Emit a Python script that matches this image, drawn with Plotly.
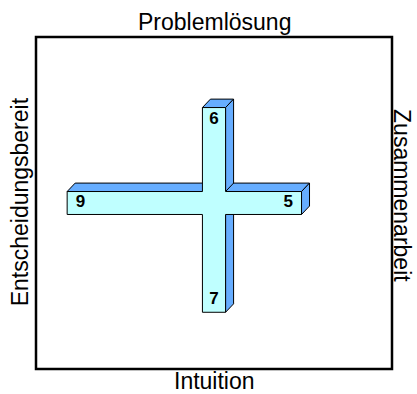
import plotly.graph_objects as go

# ================== data ==================
side_labels = ["Entscheidungsbereit", "Zusammenarbeit", "Problemlösung", "Intuition"]  # links, rechts, oben, unten
arm_values = [9, 5, 6, 7]                                                            # links, rechts, oben, unten
arm_text = [str(v) for v in arm_values]

# ================== style ==================
FACE = "#bfffff"
SIDE = "#66adff"
HW_X, HW_Y = 0.78, 0.83   # halbe Balkenbreite
PAD = 0.9                 # Balken geht etwas ueber den Wert hinaus
DX, DY = 0.54, 0.61       # 3D-Tiefe
RANGE = 12

left = -(arm_values[0] + PAD)
right = arm_values[1] + PAD
top = arm_values[2] + PAD
bottom = -(arm_values[3] + PAD)

fig = go.Figure()

def poly(xs, ys, color):
    fig.add_trace(go.Scatter(x=xs + [xs[0]], y=ys + [ys[0]], mode="lines", fill="toself",
                             fillcolor=color, line=dict(color="black", width=1),
                             hoverinfo="skip", showlegend=False))

# horizontaler Balken: Oberseite + rechtes Ende
poly([left, right, right + DX, left + DX], [HW_Y, HW_Y, HW_Y + DY, HW_Y + DY], SIDE)
poly([right, right, right + DX, right + DX], [-HW_Y, HW_Y, HW_Y + DY, -HW_Y + DY], SIDE)
# senkrechter Balken: Oberseite + rechte Seite (oben und unten)
poly([-HW_X, HW_X, HW_X + DX, -HW_X + DX], [top, top, top + DY, top + DY], SIDE)
poly([HW_X, HW_X, HW_X + DX, HW_X + DX], [HW_Y, top, top + DY, HW_Y + DY], SIDE)
poly([HW_X, HW_X, HW_X + DX, HW_X + DX], [bottom, -HW_Y, -HW_Y, bottom + DY], SIDE)
# Vorderseite des Kreuzes
poly([left, left, -HW_X, -HW_X, HW_X, HW_X, right, right, HW_X, HW_X, -HW_X, -HW_X],
     [-HW_Y, HW_Y, HW_Y, top, top, HW_Y, HW_Y, -HW_Y, -HW_Y, bottom, bottom, -HW_Y], FACE)

# Zahlen
fig.add_trace(go.Scatter(
    x=[-arm_values[0], arm_values[1], 0, 0],
    y=[0, 0, arm_values[2], -arm_values[3]],
    mode="text", text=["<b>%s</b>" % t for t in arm_text],
    textfont=dict(family="Liberation Sans, Arial, sans-serif", size=17, color="black"),
    hoverinfo="skip", showlegend=False))

font = dict(family="Liberation Sans, Arial, sans-serif", size=23, color="black")
fig.add_annotation(text=side_labels[2], x=0.5, y=1.044, xref="paper", yref="paper",
                   showarrow=False, font=font, yanchor="middle")
fig.add_annotation(text=side_labels[3], x=0.5, y=-0.036, xref="paper", yref="paper",
                   showarrow=False, font=font, yanchor="middle")
fig.add_annotation(text=side_labels[0], x=-0.044, y=0.503, xref="paper", yref="paper",
                   showarrow=False, font=font, textangle=-90, xanchor="center")
fig.add_annotation(text=side_labels[1], x=1.028, y=0.521, xref="paper", yref="paper",
                   showarrow=False, font=font, textangle=90, xanchor="center")

fig.add_shape(type="rect", xref="paper", yref="paper", x0=0, x1=1, y0=0, y1=1,
              line=dict(color="black", width=2.5))

fig.update_xaxes(range=[-RANGE, RANGE], visible=False)
fig.update_yaxes(range=[-RANGE, RANGE], visible=False)
fig.update_layout(
    width=417, height=394,
    margin=dict(l=36, r=25, t=37, b=25),
    plot_bgcolor="white", paper_bgcolor="white",
    showlegend=False,
)

# Body-Rand weg, sonst sitzt die Grafik 8px versetzt
fig.write_html("out.html", config={"displayModeBar": False},
               post_script="document.body.style.margin='0';")
